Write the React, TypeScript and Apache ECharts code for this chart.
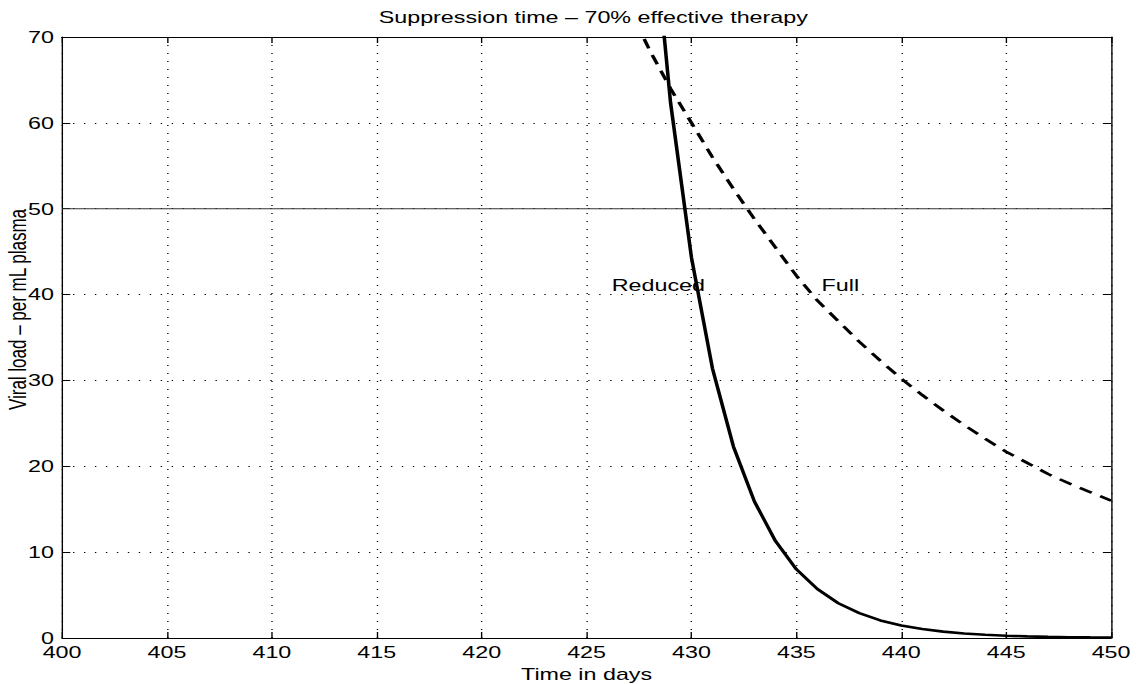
import React, { useEffect, useRef } from "react";
import * as echarts from "echarts";

const reducedDays = [428, 429, 430, 431, 432, 433, 434, 435, 436, 437, 438, 439, 440, 441, 442, 443, 444, 445, 446, 447, 448, 449, 450];
const reducedLoad = [88.0, 62.4, 44.3, 31.4, 22.3, 15.9, 11.3, 8.0, 5.7, 4.05, 2.9, 2.05, 1.46, 1.04, 0.74, 0.52, 0.37, 0.26, 0.19, 0.13, 0.095, 0.067, 0.048];

const fullDays = [427, 428, 429, 430, 431, 432, 433, 434, 435, 436, 437, 438, 439, 440, 441, 442, 443, 444, 445, 446, 447, 448, 449, 450];
const fullLoad = [73.5, 68.5, 64.0, 60.0, 56.0, 52.3, 48.8, 45.5, 42.2, 39.3, 36.9, 34.5, 32.3, 30.2, 28.3, 26.5, 24.8, 23.2, 21.7, 20.4, 19.1, 18.0, 17.0, 16.0];

const thresholdDays = [400, 450];
const thresholdLoad = [50, 50];

const curveLabels = ["Reduced", "Full"];
const labelDays = [426.2, 436.2];
const labelLoads = [41.1, 41.1];

const TITLE = "Suppression time – 70% effective therapy";
const X_NAME = "Time in days";
const Y_NAME = "Viral load – per mL plasma";

const FONT = "'Liberation Sans', Arial, Helvetica, sans-serif";
const STRETCH = 1140 / 832;

export default function App() {
  const ref = useRef<HTMLDivElement>(null);

  useEffect(() => {
    if (!ref.current) return;
    const chart = echarts.init(ref.current, undefined, { renderer: "svg" });
    const axisText = { color: "#000", fontSize: 17, fontFamily: FONT };
    const commonX = { type: "value", min: 400, max: 450, interval: 5 };
    const commonY = { type: "value", min: 0, max: 70, interval: 10 };
    const axisLine = { show: true, onZero: false, lineStyle: { color: "#000", width: 1 } };
    const tick = { show: true, inside: true, length: 6, lineStyle: { color: "#000", width: 1 } };
    const grid = { show: true, lineStyle: { color: "#000", width: 1, type: [1, 7] } };

    chart.setOption({
      animation: false,
      backgroundColor: "#fff",
      title: {
        text: TITLE,
        left: 428,
        textAlign: "center",
        top: 4,
        textStyle: { color: "#000", fontSize: 17, fontWeight: "normal", fontFamily: FONT },
      },
      grid: { left: 45.3, right: 21.1, top: 37, bottom: 46, containLabel: false, outerBoundsMode: "none" },
      xAxis: [
        {
          ...commonX,
          position: "bottom",
          name: X_NAME,
          nameLocation: "middle",
          nameGap: 28,
          nameMoveOverlap: false,
          nameTextStyle: axisText,
          axisLine,
          axisTick: tick,
          axisLabel: { ...axisText, margin: 6 },
          splitLine: grid,
        },
        {
          ...commonX,
          position: "top",
          axisLine,
          axisTick: tick,
          axisLabel: { show: false },
          splitLine: { show: false },
        },
      ],
      yAxis: [
        {
          ...commonY,
          position: "left",
          name: Y_NAME,
          nameLocation: "middle",
          nameGap: 24,
          nameMoveOverlap: false,
          nameTextStyle: { ...axisText, padding: [0, 0, 0, 56] },
          axisLine,
          axisTick: tick,
          axisLabel: { ...axisText, margin: 6 },
          splitLine: grid,
        },
        {
          ...commonY,
          position: "right",
          axisLine,
          axisTick: tick,
          axisLabel: { show: false },
          splitLine: { show: false },
        },
      ],
      series: [
        {
          name: "Threshold",
          type: "line",
          xAxisIndex: 0,
          yAxisIndex: 0,
          data: thresholdDays.map((d, i) => [d, thresholdLoad[i]]),
          symbol: "none",
          lineStyle: { color: "#333", width: 1 },
          z: 3,
        },
        {
          name: "Reduced",
          type: "line",
          xAxisIndex: 0,
          yAxisIndex: 0,
          data: reducedDays.map((d, i) => [d, reducedLoad[i]]),
          symbol: "none",
          clip: true,
          lineStyle: { color: "#000", width: 2.6 },
          z: 4,
        },
        {
          name: "Full",
          type: "line",
          xAxisIndex: 0,
          yAxisIndex: 0,
          data: fullDays.map((d, i) => [d, fullLoad[i]]),
          symbol: "none",
          clip: true,
          lineStyle: { color: "#000", width: 2.6, type: [10, 7] },
          z: 4,
        },
        {
          name: "Labels",
          type: "scatter",
          xAxisIndex: 0,
          yAxisIndex: 0,
          symbolSize: 0,
          itemStyle: { color: "#000" },
          data: curveLabels.map((n, i) => ({ name: n, value: [labelDays[i], labelLoads[i]] })),
          label: {
            show: true,
            position: "right",
            distance: 0,
            formatter: "{b}",
            color: "#000",
            opacity: 1,
            fontSize: 17,
            fontFamily: FONT,
          },
          z: 5,
        },
      ],
    });
    return () => chart.dispose();
  }, []);

  return (
    <div style={{ position: "fixed", left: 0, top: 0, width: 1140, height: 684, overflow: "hidden", background: "#fff" }}>
      <div
        ref={ref}
        style={{ width: 832, height: 684, transform: `scaleX(${STRETCH})`, transformOrigin: "0 0" }}
      />
    </div>
  );
}
